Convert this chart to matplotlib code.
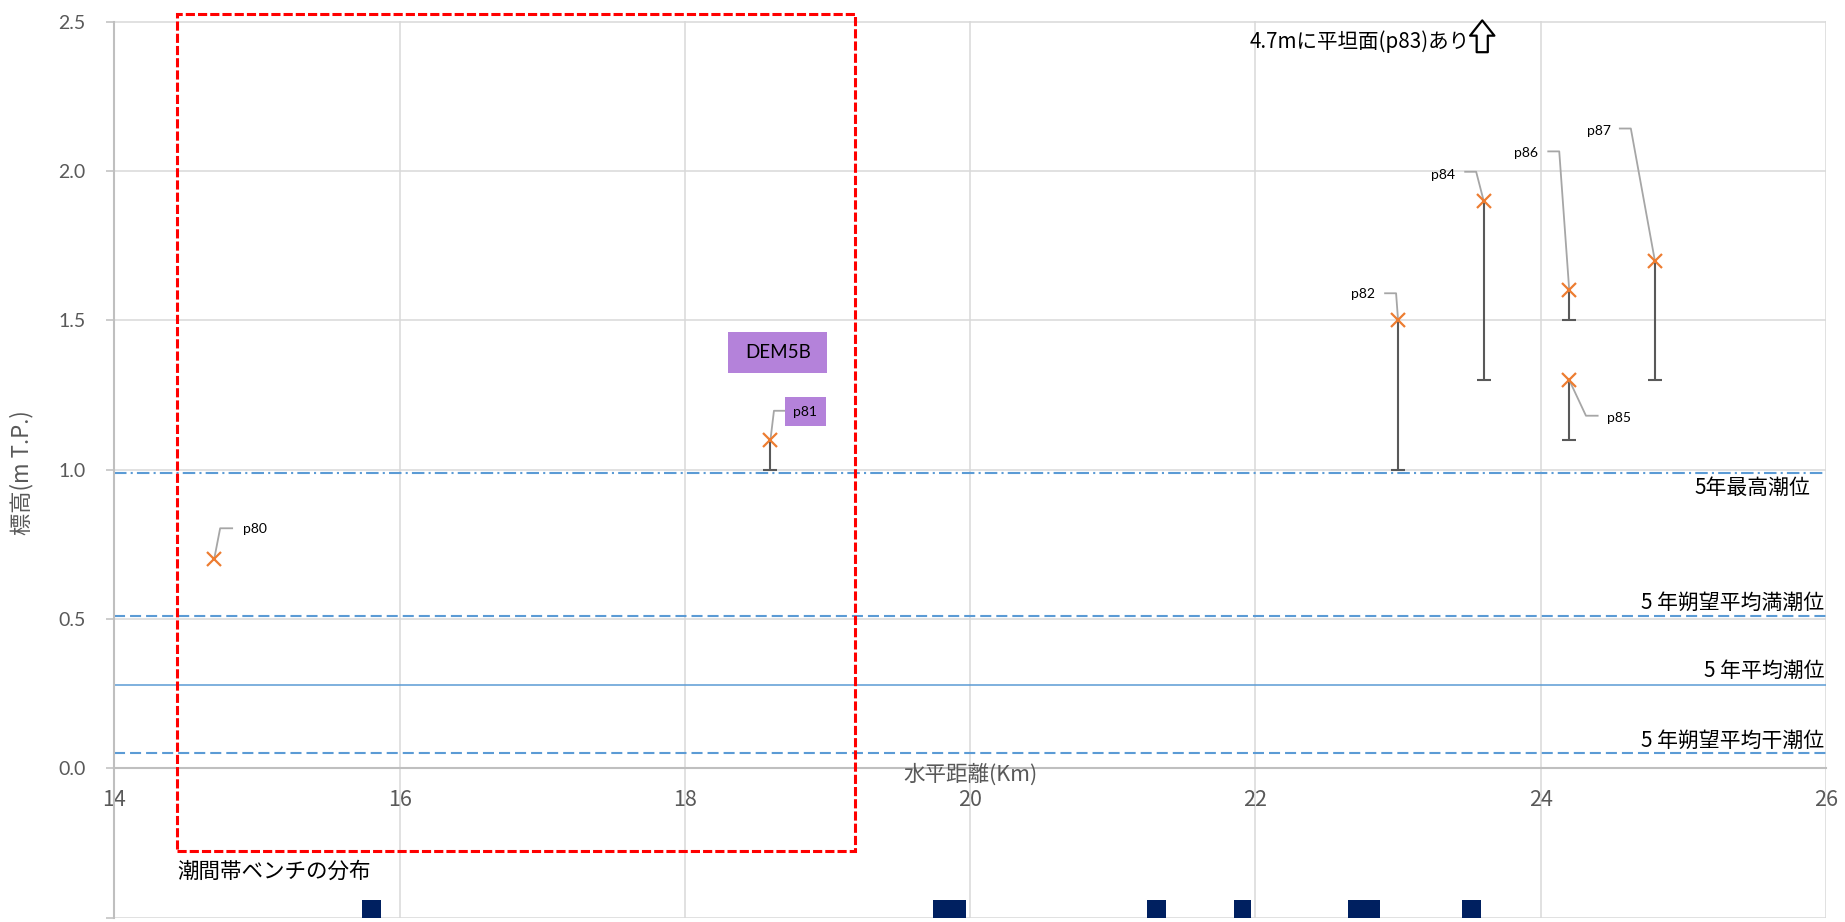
import numpy as np
import matplotlib
matplotlib.use('Agg')
import matplotlib.pyplot as plt
from matplotlib.patches import Rectangle

plt.rcParams['font.family'] = ['Noto Sans CJK JP', 'DejaVu Sans']

# 測点データ (水平距離km, 標高m, 下限m)
point_names = ['p80', 'p81', 'p82', 'p84', 'p85', 'p86', 'p87']
point_km = [14.7, 18.6, 23.0, 23.6, 24.2, 24.2, 24.8]
point_elev = [0.7, 1.1, 1.5, 1.9, 1.3, 1.6, 1.7]
point_low = [np.nan, 1.0, 1.0, 1.3, 1.1, 1.5, 1.3]

# 潮位
tide_names = ['5年最高潮位', '5 年朔望平均満潮位', '5 年平均潮位', '5 年朔望平均干潮位']
tide_levels = [0.99, 0.51, 0.28, 0.05]

# 潮間帯ベンチの分布 (開始km, 終了km)
bench_start = [15.74, 19.74, 21.24, 21.85, 22.65, 23.45]
bench_end = [15.87, 19.97, 21.37, 21.97, 22.87, 23.58]

x_ticks = [14, 16, 18, 20, 22, 24, 26]
y_ticks = [-0.5, 0.0, 0.5, 1.0, 1.5, 2.0, 2.5]
y_ticklabels = ['', '0.0', '0.5', '1.0', '1.5', '2.0', '2.5']

GRAY_TXT = '#595959'
BLUE = '#5B9BD5'
ORANGE = '#ED7D31'
PURPLE = '#B482DA'
LATIN = ['Lato', 'DejaVu Sans']

fig = plt.figure(figsize=(18.45, 9.22), dpi=100)
ax = fig.add_axes([114.3 / 1845, 4.2 / 922, 1711.7 / 1845, 896.3 / 922])
ax.set_xlim(14, 26)
ax.set_ylim(-0.5, 2.5)

# グリッド
ax.set_xticks(x_ticks)
ax.set_yticks(y_ticks)
ax.set_yticklabels(y_ticklabels, family=LATIN)
ax.set_xticklabels([str(t) for t in x_ticks], family=LATIN)
ax.grid(True, color='#D9D9D9', lw=1.1)
ax.set_axisbelow(True)
for s in ['top', 'right']:
    ax.spines[s].set_visible(False)
ax.spines['left'].set_color('#BFBFBF')
ax.spines['left'].set_linewidth(1.5)
ax.spines['bottom'].set_position(('data', 0))
ax.spines['bottom'].set_color('#BFBFBF')
ax.spines['bottom'].set_linewidth(1.5)
ax.tick_params(axis='y', length=5.5, width=1.1, color='#BFBFBF', pad=15, labelsize=14, labelcolor=GRAY_TXT)
ax.tick_params(axis='x', length=0, pad=14.5, labelsize=15.5, labelcolor=GRAY_TXT)

# 潮位線
styles = [(0, (6, 2, 1, 2)), (0, (5.3, 2.4)), '-', (0, (5.3, 2.4))]
widths = [1.5, 1.5, 1.1, 1.5]
for lvl, st, lw in zip(tide_levels, styles, widths):
    ax.axhline(lvl, color=BLUE, lw=lw, ls=st, zorder=2)
label_dy = [-0.05, 0.045, 0.047, 0.043]
label_x = [25.9, 26.0, 26.0, 26.0]
for name, lvl, dy, lx in zip(tide_names, tide_levels, label_dy, label_x):
    ax.text(lx - 0.01, lvl + dy, name, ha='right', va='center', fontsize=15, color='black')

# 誤差棒(下限)
low = np.array(point_low)
xs = np.array(point_km)
ys = np.array(point_elev)
m = ~np.isnan(low)
ax.vlines(xs[m], low[m], ys[m], color='#595959', lw=1.5, zorder=3)
ax.plot(xs[m], low[m], ls='none', marker='_', ms=10, mew=1.5, color='#595959', zorder=3)

# 測点
ax.plot(xs, ys, ls='none', marker='x', ms=10, mew=1.6, color=ORANGE, zorder=4)

# ラベルと引出線 (px オフセット: 屈曲点, 終点, 文字位置)
offsets = {
    'p80': ((6, -31), (18, -31), (29, -30), 'left'),
    'p81': ((3.5, -29), (14, -29), (35, -28), 'center'),
    'p82': ((-2, -27), (-13, -27), (-23, -26), 'right'),
    'p84': ((-7.5, -29), (-18.5, -29), (-28.5, -26), 'right'),
    'p85': ((16.7, 35.7), (28.4, 35.7), (37.7, 38), 'left'),
    'p86': ((-10, -139), (-21, -139), (-31, -137), 'right'),
    'p87': ((-24, -132), (-35, -132), (-44, -130), 'right'),
}
inv = ax.transData.inverted()
for name, x, y in zip(point_names, point_km, point_elev):
    el, en, tp, ha = offsets[name]
    px, py = ax.transData.transform((x, y))
    pts = [(px, py), (px + el[0], py - el[1]), (px + en[0], py - en[1])]
    d = inv.transform(pts)
    ax.plot(d[:, 0], d[:, 1], color='#A6A6A6', lw=1.3, zorder=3, clip_on=False)
    tx, ty = inv.transform((px + tp[0], py - tp[1]))
    if name == 'p81':
        ax.text(tx, ty, name, ha='center', va='center', fontsize=10, family=LATIN,
                bbox=dict(boxstyle='square,pad=0.6', fc=PURPLE, ec='none'))
    else:
        ax.text(tx, ty, name, ha=ha, va='center', fontsize=10, family=LATIN)

# DEM5B
ax.add_patch(Rectangle((18.304, 1.323), 0.694, 0.137, fc=PURPLE, ec='none', zorder=5))
ax.text(18.651, 1.392, 'DEM5B', ha='center', va='center', fontsize=13.5, family=LATIN, zorder=6)

# 赤枠
ax.add_patch(Rectangle((14.44, -0.277), 4.75, 2.803, fill=False, ec='#FF0000', lw=2.2,
                       ls=(0, (3, 1)), clip_on=False, zorder=5))

# 潮間帯ベンチ
b0 = np.array(bench_start)
b1 = np.array(bench_end)
ax.bar(b0, 0.058, width=b1 - b0, bottom=-0.5, align='edge', color='#002060', zorder=4, clip_on=False)
ax.text(14.44, -0.346, '潮間帯ベンチの分布', ha='left', va='center', fontsize=15.5, color='black')

# 注記
ax.text(21.96, 2.432, '4.7mに平坦面(p83)あり', ha='left', va='center', fontsize=14.8, color='black')
ax.annotate('', xy=(23.59, 2.513), xytext=(23.59, 2.388), annotation_clip=False,
            arrowprops=dict(arrowstyle='simple,head_width=1.75,head_length=1.1,tail_width=0.8',
                            mutation_scale=10, fc='white', ec='black', lw=1.6))

# 軸ラベル
ax.text(20.0, -0.022, '水平距離(Km)', ha='center', va='center', fontsize=15.5, color=GRAY_TXT)
fig.text(21.7 / 1845, 1 - 473 / 922, '標高(m T.P.)', rotation=90, ha='center', va='center',
         fontsize=16, color=GRAY_TXT)

fig.savefig('out.png', dpi=100)
